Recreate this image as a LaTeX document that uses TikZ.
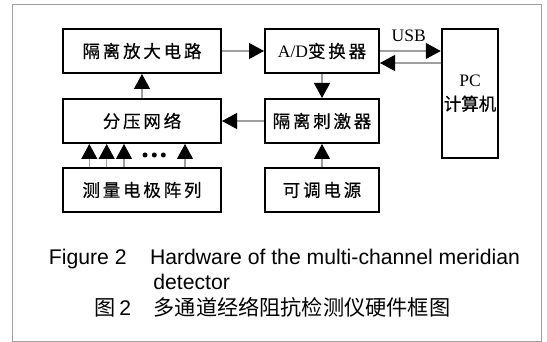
\documentclass[tikz,border=0pt]{standalone}
\usepackage{fontspec}
\setmainfont{Liberation Serif}
\setsansfont{Liberation Sans}
\newfontfamily\cjk{Noto Sans CJK SC}
\newfontfamily\cjkbold[FakeBold=0.5]{Noto Sans CJK SC}
\newfontfamily\cjkbox[LetterSpace=16,FakeBold=0.5]{Noto Sans CJK SC}
\usetikzlibrary{arrows.meta}

\tikzset{
  block/.style={draw=black, line width=2pt, minimum width=114pt, minimum height=44pt,
    inner sep=0pt, font=\fontsize{17.5}{24}\selectfont},
  wideblock/.style={block, minimum width=158pt},
  sig/.style={draw=gray!75, line width=1.1pt, -{Triangle[length=15pt,width=16pt,black]}},
  capline/.style={inner sep=0pt, anchor=base west, font=\sffamily\fontsize{21.2}{25}\selectfont}
}

\begin{document}
\begin{tikzpicture}[x=1pt,y=-1pt]
  % Page and frame
  \useasboundingbox (0,0) rectangle (547,342);
  \draw[gray!75, line width=1.3pt] (12.7,4.5) rectangle (541.3,341.3);

  % Blocks
  \node[wideblock] (amp)     at (142,51)  {\cjkbox 隔离放大电路};
  \node[block]     (adc)     at (322,51)  {A/D\cjkbox 变换器};
  \node[wideblock] (divider) at (142,121) {\cjkbox 分压网络};
  \node[block]     (stim)    at (322,121) {\cjkbox 隔离刺激器};
  \node[wideblock] (elec)    at (142,190) {\cjkbox 测量电极阵列};
  \node[block]     (supply)  at (322,190) {\cjkbox 可调电源};
  \node[block, minimum width=56.5pt, minimum height=129.5pt, align=center]
    (pc) at (470,93.3) {PC\\\cjkbold 计算机};

  % Signal paths
  \draw[sig] (divider) -- (amp);
  \draw[sig] (amp) -- (adc);
  \draw[sig] (adc.east) -- (adc.east -| pc.west)
    node[midway, above=9pt, xshift=-1.7pt, inner sep=0pt, font=\fontsize{17.5}{20}\selectfont] (usb) {USB};
  \coordinate (back) at ([yshift=-12pt]adc.east);
  \draw[sig] (back -| pc.west) -- (back);
  \draw[sig] (adc) -- (stim);
  \draw[sig] (stim) -- (divider);
  \draw[sig] (supply) -- (stim);

  % Electrode inputs
  \foreach \dx in {-52.7,-35.3,-18,43}
    \draw[sig] ([xshift=\dx pt]elec.north) -- ([xshift=\dx pt]divider.south);
  \foreach \x in {145,154.3,163.3}
    \fill (\x,155) circle (2.5pt);

  % Caption
  \node[capline] (capno)   at (48.7,264.2)  {Figure 2};
  \node[capline] (capen)   at (149.8,264.2) {Hardware of the multi-channel meridian};
  \node[capline] (capdet)  at (153.1,289.2) {detector};
  \node[capline] (capzhno) at (93.9,316)    {{\cjk 图}\hspace{4pt}2};
  \node[capline] (capzh)   at (153.4,316)   {\cjk 多通道经络阻抗检测仪硬件框图};
\end{tikzpicture}
\end{document}
